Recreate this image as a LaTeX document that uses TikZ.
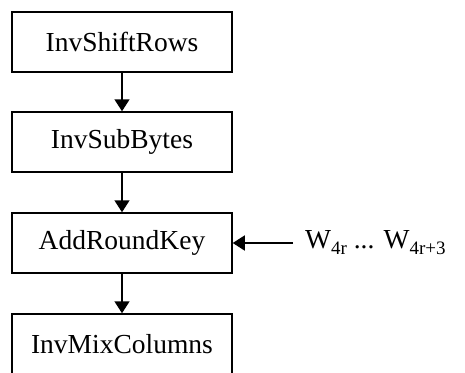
\documentclass[tikz,border=0pt]{standalone}
\usepackage{fontspec}
\setmainfont{Liberation Serif}
\usetikzlibrary{arrows.meta}
\newcommand{\subtx}[1]{\raisebox{-6pt}{\fontsize{19}{20}\selectfont #1}}
\begin{document}
\begin{tikzpicture}[x=1pt,y=-1pt,
  stepbox/.style={draw,line width=1.5pt,minimum width=220pt,minimum height=60pt,inner sep=0pt,font=\fontsize{27.5}{30}\selectfont},
  flow/.style={line width=1.6pt,-{Triangle[length=12pt,width=15pt]}}]
\useasboundingbox[clip] (0,0) rectangle (465,372);
\node[stepbox] (a) at (122,42) {InvShiftRows};
\node[stepbox] (b) at (122,142) {InvSubBytes};
\node[stepbox] (c) at (122,243) {AddRoundKey};
\node[stepbox] (d) at (122,344) {InvMixColumns};
\node[anchor=west,inner sep=0pt,font=\fontsize{27.5}{30}\selectfont] (w) at (305,243) {W\subtx{4r} ... W\subtx{4r+3}};
\coordinate (ws) at (293,243);
\draw[flow] (a) -- (b);
\draw[flow] (b) -- (c);
\draw[flow] (c) -- (d);
\draw[flow] (ws) -- (c.east);
\end{tikzpicture}
\end{document}
